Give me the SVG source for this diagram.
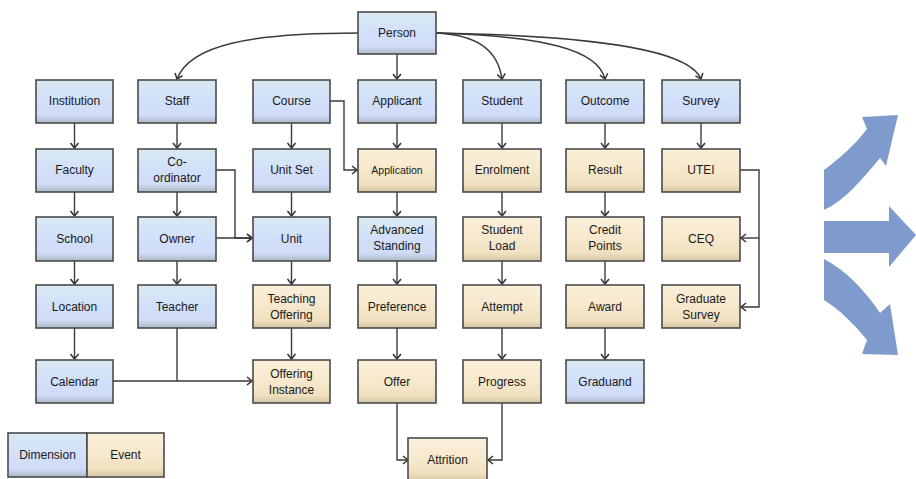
<svg xmlns="http://www.w3.org/2000/svg" width="916" height="479" viewBox="0 0 916 479">
<defs>
<linearGradient id="gd" x1="0" y1="0" x2="0" y2="1">
<stop offset="0" stop-color="#d8eaf2"/><stop offset="0.5" stop-color="#d2dffa"/><stop offset="0.82" stop-color="#d0dcf8"/><stop offset="1" stop-color="#aab8c4"/>
</linearGradient>
<linearGradient id="ge" x1="0" y1="0" x2="0" y2="1">
<stop offset="0" stop-color="#fbf0da"/><stop offset="0.5" stop-color="#f6e8cc"/><stop offset="0.82" stop-color="#f0e0c0"/><stop offset="1" stop-color="#d4c6a6"/>
</linearGradient>
<marker id="ah" markerUnits="userSpaceOnUse" markerWidth="12" markerHeight="12" refX="9" refY="5" orient="auto">
<path d="M4,1 L9,5 L4,9" fill="none" stroke="#333" stroke-width="1.5"/>
</marker>
</defs>
<style>
.d{fill:url(#gd);stroke:#4a4a4a;stroke-width:1.6}
.e{fill:url(#ge);stroke:#4a4a4a;stroke-width:1.6}
text{font-family:"Liberation Sans",Arial,sans-serif;font-size:12px;fill:#1a1a1a;text-anchor:middle}
.c path{fill:none;stroke:#3a3a3a;stroke-width:1.4}
.big{fill:#7f9acc}
</style>
<rect width="916" height="479" fill="#ffffff"/>

<g class="c" id="connectors">
<path d="M358,33 C250,33 190,45 177,79" marker-end="url(#ah)"/>
<path d="M436,33 C480,35 498,52 502,79" marker-end="url(#ah)"/>
<path d="M436,33 C545,36 598,50 605,79" marker-end="url(#ah)"/>
<path d="M436,33 C610,36 690,52 701,79" marker-end="url(#ah)"/>
<path d="M397,54 L397,79" marker-end="url(#ah)"/>
<path d="M74.5,123 L74.5,148" marker-end="url(#ah)"/>
<path d="M74.5,192 L74.5,216" marker-end="url(#ah)"/>
<path d="M74.5,261 L74.5,284" marker-end="url(#ah)"/>
<path d="M74.5,328 L74.5,359" marker-end="url(#ah)"/>
<path d="M177,123 L177,148" marker-end="url(#ah)"/>
<path d="M177,192 L177,216" marker-end="url(#ah)"/>
<path d="M177,261 L177,284" marker-end="url(#ah)"/>
<path d="M291.5,123 L291.5,148" marker-end="url(#ah)"/>
<path d="M291.5,192 L291.5,216" marker-end="url(#ah)"/>
<path d="M291.5,261 L291.5,284" marker-end="url(#ah)"/>
<path d="M291.5,328 L291.5,359" marker-end="url(#ah)"/>
<path d="M397,123 L397,148" marker-end="url(#ah)"/>
<path d="M397,192 L397,216" marker-end="url(#ah)"/>
<path d="M397,261 L397,284" marker-end="url(#ah)"/>
<path d="M397,328 L397,359" marker-end="url(#ah)"/>
<path d="M502,123 L502,148" marker-end="url(#ah)"/>
<path d="M502,192 L502,216" marker-end="url(#ah)"/>
<path d="M502,261 L502,284" marker-end="url(#ah)"/>
<path d="M502,328 L502,359" marker-end="url(#ah)"/>
<path d="M605,123 L605,148" marker-end="url(#ah)"/>
<path d="M605,192 L605,216" marker-end="url(#ah)"/>
<path d="M605,261 L605,284" marker-end="url(#ah)"/>
<path d="M605,328 L605,359" marker-end="url(#ah)"/>
<path d="M701,123 L701,148" marker-end="url(#ah)"/>
<path d="M330,101 L344,101 L344,170 L357,170" marker-end="url(#ah)"/>
<path d="M216,170 L235,170 L235,238 L252,238" marker-end="url(#ah)"/>
<path d="M216,238 L252,238" marker-end="url(#ah)"/>
<path d="M113,381 L252,381" marker-end="url(#ah)"/>
<path d="M177,328 L177,381"/>
<path d="M397,403 L397,460 L408,460" marker-end="url(#ah)"/>
<path d="M502,403 L502,460 L488,460" marker-end="url(#ah)"/>
<path d="M740,170 L759,170 L759,307 L741,307" marker-end="url(#ah)"/>
<path d="M759,238 L741,238" marker-end="url(#ah)"/>
</g>

<g id="n-person"><rect class="d" x="358" y="12" width="78" height="42"/><text x="397" y="37">Person</text></g>
<g id="n-institution"><rect class="d" x="36" y="80" width="77" height="43"/><text x="74.5" y="105">Institution</text></g>
<g id="n-staff"><rect class="d" x="138" y="80" width="78" height="43"/><text x="177" y="105">Staff</text></g>
<g id="n-course"><rect class="d" x="253" y="80" width="77" height="43"/><text x="291.5" y="105">Course</text></g>
<g id="n-applicant"><rect class="d" x="358" y="80" width="78" height="43"/><text x="397" y="105">Applicant</text></g>
<g id="n-student"><rect class="d" x="463" y="80" width="78" height="43"/><text x="502" y="105">Student</text></g>
<g id="n-outcome"><rect class="d" x="566" y="80" width="78" height="43"/><text x="605" y="105">Outcome</text></g>
<g id="n-survey"><rect class="d" x="662" y="80" width="78" height="43"/><text x="701" y="105">Survey</text></g>

<g id="n-faculty"><rect class="d" x="36" y="149" width="77" height="43"/><text x="74.5" y="174">Faculty</text></g>
<g id="n-coordinator"><rect class="d" x="138" y="149" width="78" height="43"/><text x="177" y="166">Co-</text><text x="177" y="182">ordinator</text></g>
<g id="n-unitset"><rect class="d" x="253" y="149" width="77" height="43"/><text x="291.5" y="174">Unit Set</text></g>
<g id="n-application"><rect class="e" x="358" y="149" width="78" height="43"/><text x="397" y="174" style="font-size:10.5px">Application</text></g>
<g id="n-enrolment"><rect class="e" x="463" y="149" width="78" height="43"/><text x="502" y="174">Enrolment</text></g>
<g id="n-result"><rect class="e" x="566" y="149" width="78" height="43"/><text x="605" y="174">Result</text></g>
<g id="n-utei"><rect class="e" x="662" y="149" width="78" height="43"/><text x="701" y="174">UTEI</text></g>

<g id="n-school"><rect class="d" x="36" y="217" width="77" height="44"/><text x="74.5" y="243">School</text></g>
<g id="n-owner"><rect class="d" x="138" y="217" width="78" height="44"/><text x="177" y="243">Owner</text></g>
<g id="n-unit"><rect class="d" x="253" y="217" width="77" height="44"/><text x="291.5" y="243">Unit</text></g>
<g id="n-advstanding"><rect class="d" x="358" y="217" width="78" height="44"/><text x="397" y="234">Advanced</text><text x="397" y="250">Standing</text></g>
<g id="n-studentload"><rect class="e" x="463" y="217" width="78" height="44"/><text x="502" y="234">Student</text><text x="502" y="250">Load</text></g>
<g id="n-creditpoints"><rect class="e" x="566" y="217" width="78" height="44"/><text x="605" y="234">Credit</text><text x="605" y="250">Points</text></g>
<g id="n-ceq"><rect class="e" x="662" y="217" width="78" height="44"/><text x="701" y="243">CEQ</text></g>

<g id="n-location"><rect class="d" x="36" y="285" width="77" height="43"/><text x="74.5" y="311">Location</text></g>
<g id="n-teacher"><rect class="d" x="138" y="285" width="78" height="43"/><text x="177" y="311">Teacher</text></g>
<g id="n-teachingoffering"><rect class="e" x="253" y="285" width="77" height="43"/><text x="291.5" y="303">Teaching</text><text x="291.5" y="319">Offering</text></g>
<g id="n-preference"><rect class="e" x="358" y="285" width="78" height="43"/><text x="397" y="311">Preference</text></g>
<g id="n-attempt"><rect class="e" x="463" y="285" width="78" height="43"/><text x="502" y="311">Attempt</text></g>
<g id="n-award"><rect class="e" x="566" y="285" width="78" height="43"/><text x="605" y="311">Award</text></g>
<g id="n-gradsurvey"><rect class="e" x="662" y="285" width="78" height="43"/><text x="701" y="303">Graduate</text><text x="701" y="319">Survey</text></g>

<g id="n-calendar"><rect class="d" x="36" y="360" width="77" height="43"/><text x="74.5" y="386">Calendar</text></g>
<g id="n-offeringinstance"><rect class="e" x="253" y="360" width="77" height="43"/><text x="291.5" y="378">Offering</text><text x="291.5" y="394">Instance</text></g>
<g id="n-offer"><rect class="e" x="358" y="360" width="78" height="43"/><text x="397" y="386">Offer</text></g>
<g id="n-progress"><rect class="e" x="463" y="360" width="78" height="43"/><text x="502" y="386">Progress</text></g>
<g id="n-graduand"><rect class="d" x="566" y="360" width="78" height="43"/><text x="605" y="386">Graduand</text></g>

<g id="n-attrition"><rect class="e" x="408" y="438" width="79" height="43"/><text x="447.5" y="464">Attrition</text></g>

<g id="legend">
<rect class="d" x="8" y="433" width="79" height="44"/>
<rect class="e" x="87" y="433" width="77" height="44"/>
<text x="47.5" y="459">Dimension</text>
<text x="125.5" y="459">Event</text>
</g>

<g id="big-arrows">
<path class="big" d="M898,115 L886,166 L880,158 C860,182 845,200 824,210 L824,170 C840,158 855,145 867,129 L862,117 Z"/>
<path class="big" d="M824,221 L889,221 L889,206 L916,235 L889,267 L889,253 L824,253 Z"/>
<path class="big" d="M898,355 L862,354 L867,340 C855,325 840,310 824,300 L824,259 C845,270 865,290 880,313 L890,304 Z"/>
</g>
</svg>
